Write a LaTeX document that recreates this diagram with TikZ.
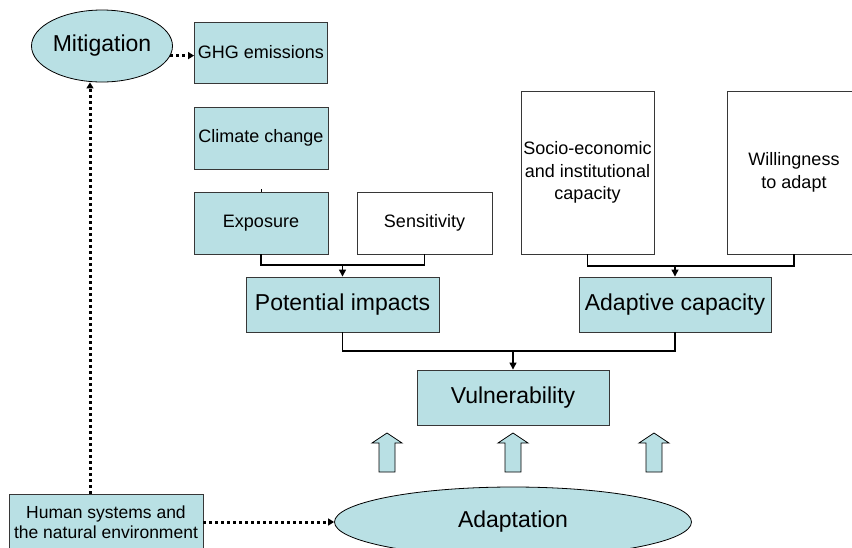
\documentclass[tikz,border=0pt]{standalone}
\usepackage{fontspec}
\setmainfont{Liberation Sans}
\usetikzlibrary{shapes.geometric,arrows.meta}
\definecolor{boxfill}{RGB}{185,224,228}
\definecolor{boxline}{RGB}{55,55,55}
\begin{document}
\begin{tikzpicture}[x=1pt,y=-1pt,
  bluebox/.style={draw=boxline, fill=boxfill, line width=0.9pt, inner sep=0pt, align=center},
  whitebox/.style={draw=boxline, fill=white, line width=0.9pt, inner sep=0pt, align=center},
  oval/.style={ellipse, draw=black, fill=boxfill, line width=0.8pt, inner sep=0pt},
  link/.style={line width=1.3pt},
  conn/.style={line width=1.3pt, -{Triangle[length=7pt,width=7pt]}},
  dotconn/.style={line width=3pt, dash pattern=on 3pt off 3pt, -{Triangle[length=6pt,width=7pt]}},
  blockarrow/.style={fill=boxfill, draw=black, line width=0.8pt},
  big/.style={font=\fontsize{23}{26}\selectfont},
  small/.style={font=\fontsize{18}{22.5}\selectfont},
]
\useasboundingbox (0,0) rectangle (852,547);
\clip (0,0) rectangle (852,547);

\node[oval, minimum width=141pt, minimum height=72pt, big] (mit) at (102,46) {Mitigation};
\node[bluebox, minimum width=133pt, minimum height=61pt, small] (ghg) at (261,52.5) {GHG emissions};
\node[bluebox, minimum width=134pt, minimum height=62pt, small] (cc) at (261,138) {Climate change};
\node[bluebox, minimum width=134pt, minimum height=62pt, small] (exp) at (261,223) {Exposure};
\node[whitebox, minimum width=135pt, minimum height=62pt, small] (sen) at (424.5,223) {Sensitivity};
\node[whitebox, minimum width=133pt, minimum height=163pt, small] (soc) at (587.5,172.5) {Socio-economic\\and institutional\\capacity};
\node[whitebox, minimum width=133pt, minimum height=163pt, small] (wil) at (794,172.5) {Willingness\\to adapt};
\node[bluebox, minimum width=193pt, minimum height=55pt, big] (pi) at (342.5,304.5) {Potential impacts};
\node[bluebox, minimum width=192pt, minimum height=55pt, big] (ac) at (675,304.5) {Adaptive capacity};
\node[bluebox, minimum width=192pt, minimum height=55pt, big] (vul) at (513,397.5) {Vulnerability};
\node[oval, minimum width=357pt, minimum height=70pt, big] (ada) at (513,522) {Adaptation};
\node[bluebox, minimum width=194pt, minimum height=56pt, font=\fontsize{17.5}{20}\selectfont] (hum) at (106,522) {Human systems and\\the natural environment};

% small tick above Exposure
\draw[line width=1pt] (exp.north) -- ++(0,-3);

% brackets
\coordinate (j1) at (342.5,265);
\coordinate (j2) at (675,266);
\coordinate (j3) at (513,351);
\draw[link] (exp.south) |- (j1) -| (sen.south);
\draw[conn] (j1) -- (pi.north);
\draw[link] (soc.south) |- (j2) -| (wil.south);
\draw[conn] (j2) -- (ac.north);
\draw[link] (pi.south) |- (j3) -| (ac.south);
\draw[conn] (j3) -- (vul.north);

% dotted arrows
\draw[dotconn] (mit.-8) -- (mit.-8 -| ghg.west);
\draw[dotconn] ([xshift=-16pt]hum.north) -- ([xshift=-16pt]hum.north |- mit.south);
\draw[dotconn] (hum.east) -- (ada.west);

% block arrows
\foreach \x in {387,513,654}
  \draw[blockarrow] (\x-8,472) -- (\x-8,443) -- (\x-15,443) -- (\x,433) -- (\x+15,443) -- (\x+8,443) -- (\x+8,472) -- cycle;
\end{tikzpicture}
\end{document}
